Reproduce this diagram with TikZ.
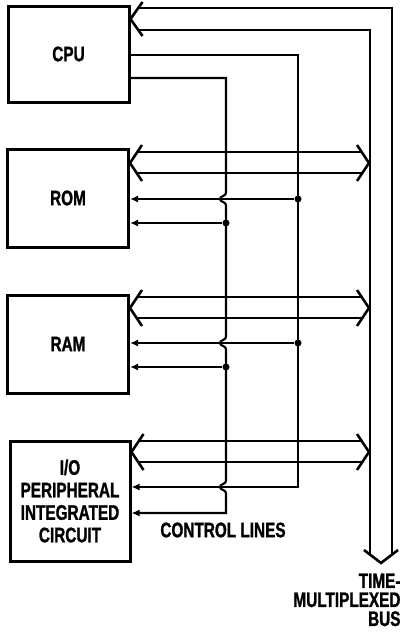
\documentclass[tikz,border=0pt]{standalone}
\usepackage{fontspec}
\setmainfont{Liberation Sans}[FakeStretch=0.73,BoldFeatures={FakeBold=1.2}]
\usetikzlibrary{arrows.meta,calc}

% one wide two-way bus from a block to the time-multiplexed bus
\newcommand{\sidebus}[2]{%
  \coordinate (l) at (#1.east |- 0,#2);
  \coordinate (r) at (369,#2);
  \draw[bus] (l) ++(12,-18) -- (l) -- ++(12,18);
  \draw[bus] (r) ++(-12,-18) -- (r) -- ++(-12,18);
  \draw[bus] ($(l)+(7,-11)$) -- ($(r)+(-7,-11)$);
  \draw[bus] ($(l)+(7,10)$) -- ($(r)+(-7,10)$);
}

\begin{document}
\begin{tikzpicture}[x=1pt,y=-1pt,
  block/.style={draw,line width=3pt,minimum width=121pt,align=center,
    font=\fontsize{21}{22.5}\selectfont\bfseries},
  bus/.style={line width=2.6pt},
  ctrl/.style={line width=2.2pt},
  tip/.style={-{Latex[length=8pt,width=7pt]}},
  dot/.style={circle,fill,inner sep=0pt,minimum size=7pt},
  lbl/.style={font=\fontsize{21}{19}\selectfont\bfseries},
  hop/.style={insert path={.. controls +(0,3) and +(0,-3) .. ++(-6,6)
    .. controls +(0,3) and +(0,-3) .. ++(6,6)}}]
  \useasboundingbox (0,0) rectangle (407,637);

  % Blocks
  \node[block,minimum height=96pt] (cpu) at (68.5,54) {CPU};
  \node[block,minimum height=98pt] (rom) at (68,198) {ROM};
  \node[block,minimum height=98pt] (ram) at (68,344) {RAM};
  \node[block,minimum width=120pt,minimum height=120pt] (io) at (70,501)
    {I/O\\PERIPHERAL\\INTEGRATED\\CIRCUIT};

  % Time-multiplexed bus
  \coordinate (bustop) at (cpu.east |- 0,19);
  \coordinate (busend) at (381,563);
  \draw[bus] (bustop) ++(12,-17) -- (bustop) -- ++(12,17);
  \draw[bus] ($(bustop)+(7,-11)$) -| ($(busend)+(11,-8)$);
  \draw[bus] ($(bustop)+(7,11)$) -| ($(busend)+(-11,-8)$);
  \draw[bus] (busend) ++(-17,-13) -- (busend) -- ++(17,-13);

  % Bus branches
  \foreach \blk/\y in {rom/163,ram/308,io/452} {
    \sidebus{\blk}{\y}
  }

  % Control lines
  \draw[ctrl,tip] (cpu.east |- 0,55) -| (298,487) -- (io.east |- 0,487);
  \draw[ctrl,tip] (cpu.east |- 0,78) -| (226,193) [hop] -- (226,337) [hop]
    -- (226,481) [hop] -- (226,513) -- (io.east |- 0,513);
  \foreach \blk/\y in {rom/199,ram/343} {
    \node[dot] (\blk-a) at (298,\y) {};
    \node[dot] (\blk-b) at (226,\y+24) {};
    \draw[ctrl,tip] (\blk-a) -- (\blk-a -| \blk.east);
    \draw[ctrl,tip] (\blk-b) -- (\blk-b -| \blk.east);
  }

  % Labels
  \node[lbl] (ctrl) at (223,530) {CONTROL LINES};
  \node[lbl,align=right,anchor=north east] (buslbl) at (404,570)
    {TIME-\\MULTIPLEXED\\BUS};
\end{tikzpicture}
\end{document}
